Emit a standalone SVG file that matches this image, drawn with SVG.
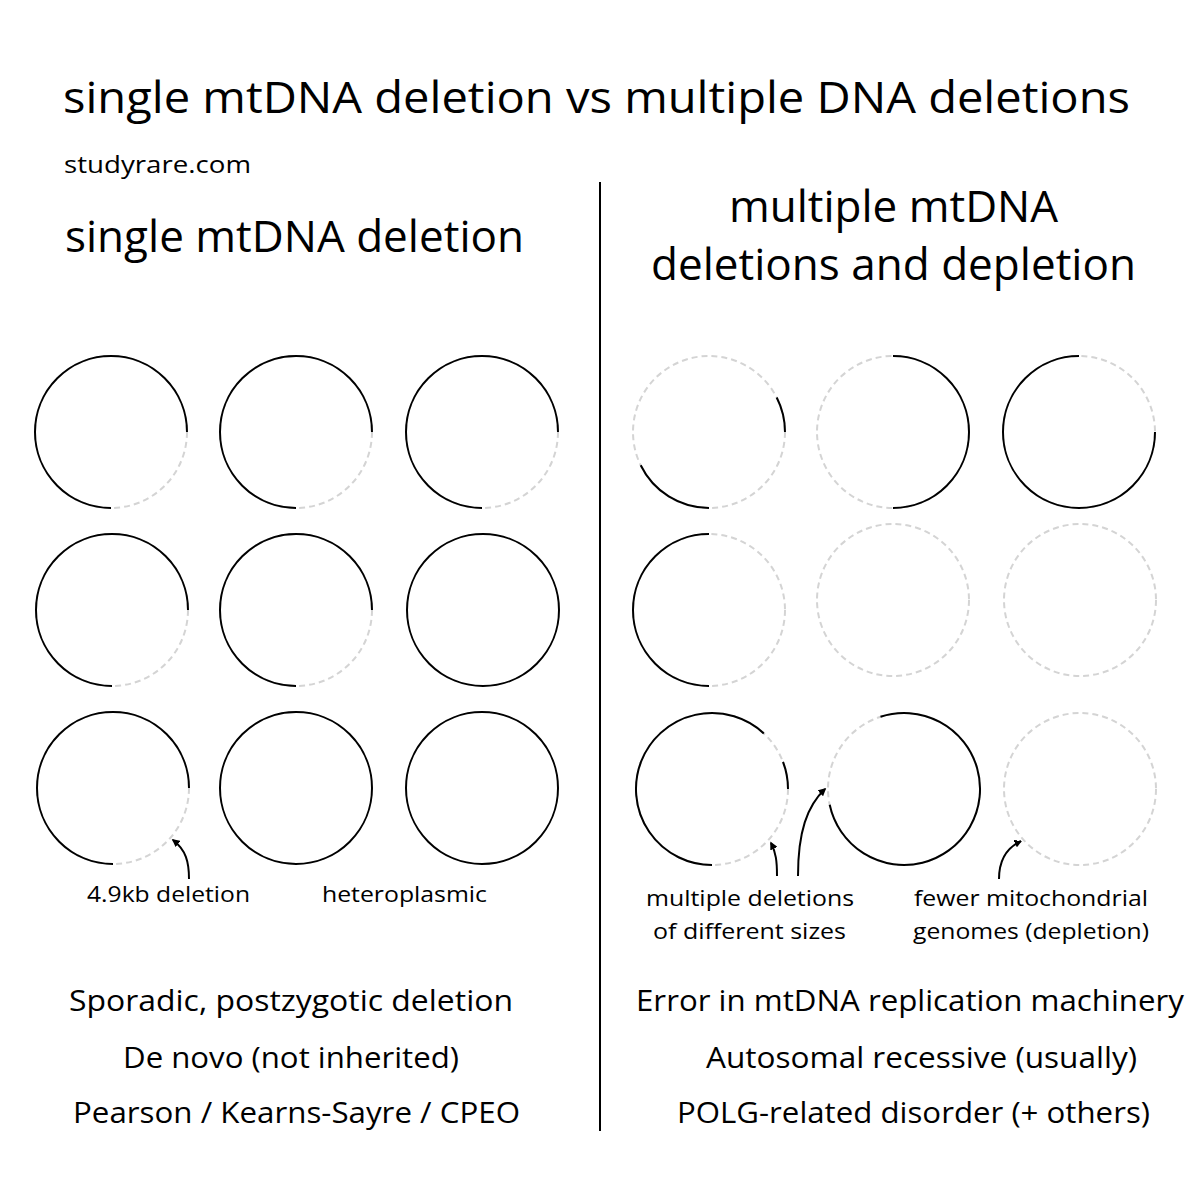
<svg xmlns="http://www.w3.org/2000/svg" width="1200" height="1200" viewBox="0 0 1200 1200">
<style>
text{font-family:"Open Sans","Noto Sans","Liberation Sans",sans-serif;fill:#000}
.t44{font-size:44px}
.t30{font-size:29px}
.t24{font-size:23px}
.t22{font-size:22px}
.g{fill:none;stroke:#d4d4d4;stroke-width:2;stroke-dasharray:6 4}
.b{fill:none;stroke:#000;stroke-width:2}
.arr{fill:none;stroke:#000;stroke-width:2;marker-end:url(#ah)}
</style>
<defs>
<marker id="ah" viewBox="0 0 10 10" refX="8" refY="5" markerWidth="4" markerHeight="4" orient="auto" markerUnits="strokeWidth">
<path d="M0,0 L10,5 L0,10 z" fill="#000"/>
</marker>
</defs>
<rect width="1200" height="1200" fill="#fff"/>

<g id="titles">
<text class="t44" x="63" y="113" textLength="1067" lengthAdjust="spacingAndGlyphs">single mtDNA deletion vs multiple DNA deletions</text>
<text class="t24" x="64" y="173" textLength="187" lengthAdjust="spacingAndGlyphs">studyrare.com</text>
<text class="t44" x="65" y="252" textLength="459" lengthAdjust="spacingAndGlyphs">single mtDNA deletion</text>
<text class="t44" x="729" y="222" textLength="329" lengthAdjust="spacingAndGlyphs">multiple mtDNA</text>
<text class="t44" x="651" y="280" textLength="485" lengthAdjust="spacingAndGlyphs">deletions and depletion</text>
</g>

<g id="divider">
<line x1="600" y1="182" x2="600" y2="1131" stroke="#000" stroke-width="2"/>
</g>

<g id="left-grid">
<g id="L11"><circle class="g" cx="111" cy="432" r="76"/><path class="b" d="M111,508 A76,76 0 1 1 187,432"/></g>
<g id="L12"><circle class="g" cx="296" cy="432" r="76"/><path class="b" d="M296,508 A76,76 0 1 1 372,432"/></g>
<g id="L13"><circle class="g" cx="482" cy="432" r="76"/><path class="b" d="M482,508 A76,76 0 1 1 558,432"/></g>
<g id="L21"><circle class="g" cx="112" cy="610" r="76"/><path class="b" d="M112,686 A76,76 0 1 1 188,610"/></g>
<g id="L22"><circle class="g" cx="296" cy="610" r="76"/><path class="b" d="M296,686 A76,76 0 1 1 372,610"/></g>
<g id="L23"><circle class="b" cx="483" cy="610" r="76"/></g>
<g id="L31"><circle class="g" cx="113" cy="788" r="76"/><path class="b" d="M113,864 A76,76 0 1 1 189,788"/></g>
<g id="L32"><circle class="b" cx="296" cy="788" r="76"/></g>
<g id="L33"><circle class="b" cx="482" cy="788" r="76"/></g>
</g>

<g id="right-grid">
<g id="R11"><circle class="g" cx="709" cy="432" r="76"/><path class="b" d="M776.7,397.5 A76,76 0 0 1 785,432"/><path class="b" d="M709,508 A76,76 0 0 1 640.7,465.3"/></g>
<g id="R12"><circle class="g" cx="893" cy="432" r="76"/><path class="b" d="M893,356 A76,76 0 0 1 893,508"/></g>
<g id="R13"><circle class="g" cx="1079" cy="432" r="76"/><path class="b" d="M1155,432 A76,76 0 1 1 1079,356"/></g>
<g id="R21"><circle class="g" cx="709" cy="610" r="76"/><path class="b" d="M709,686 A76,76 0 0 1 709,534"/></g>
<g id="R22"><circle class="g" cx="893" cy="600" r="76"/></g>
<g id="R23"><circle class="g" cx="1080" cy="600" r="76"/></g>
<g id="R31"><circle class="g" cx="712" cy="789" r="76"/><path class="b" d="M712,865 A76,76 0 1 1 763.8,733.4"/><path class="b" d="M783,761.8 A76,76 0 0 1 788,789"/></g>
<g id="R32"><circle class="g" cx="904" cy="789" r="76"/><path class="b" d="M880.5,716.7 A76,76 0 1 1 829.7,804.8"/></g>
<g id="R33"><circle class="g" cx="1080" cy="789" r="76"/></g>
</g>

<g id="connectors">
<path class="arr" d="M189,879 C189,862 186,850 173,840"/>
<path class="arr" d="M777,876 C777,861 776,853 771,843"/>
<path class="arr" d="M798,876 C798,832 807,806 825,789"/>
<path class="arr" d="M999,879 C999,862 1006,848 1021,841"/>
</g>

<g id="labels">
<text class="t22" x="87" y="902" textLength="163" lengthAdjust="spacingAndGlyphs">4.9kb deletion</text>
<text class="t22" x="322" y="902" textLength="165" lengthAdjust="spacingAndGlyphs">heteroplasmic</text>
<text class="t22" x="646" y="906" textLength="208" lengthAdjust="spacingAndGlyphs">multiple deletions</text>
<text class="t22" x="653" y="939" textLength="193" lengthAdjust="spacingAndGlyphs">of different sizes</text>
<text class="t22" x="914" y="906" textLength="234" lengthAdjust="spacingAndGlyphs">fewer mitochondrial</text>
<text class="t22" x="913" y="939" textLength="236" lengthAdjust="spacingAndGlyphs">genomes (depletion)</text>
</g>

<g id="left-notes">
<text class="t30" x="69" y="1011" textLength="444" lengthAdjust="spacingAndGlyphs">Sporadic, postzygotic deletion</text>
<text class="t30" x="123" y="1068" textLength="336" lengthAdjust="spacingAndGlyphs">De novo (not inherited)</text>
<text class="t30" x="73" y="1123" textLength="447" lengthAdjust="spacingAndGlyphs">Pearson / Kearns-Sayre / CPEO</text>
</g>

<g id="right-notes">
<text class="t30" x="636" y="1011" textLength="548" lengthAdjust="spacingAndGlyphs">Error in mtDNA replication machinery</text>
<text class="t30" x="706" y="1068" textLength="431" lengthAdjust="spacingAndGlyphs">Autosomal recessive (usually)</text>
<text class="t30" x="677" y="1123" textLength="473" lengthAdjust="spacingAndGlyphs">POLG-related disorder (+ others)</text>
</g>
</svg>
